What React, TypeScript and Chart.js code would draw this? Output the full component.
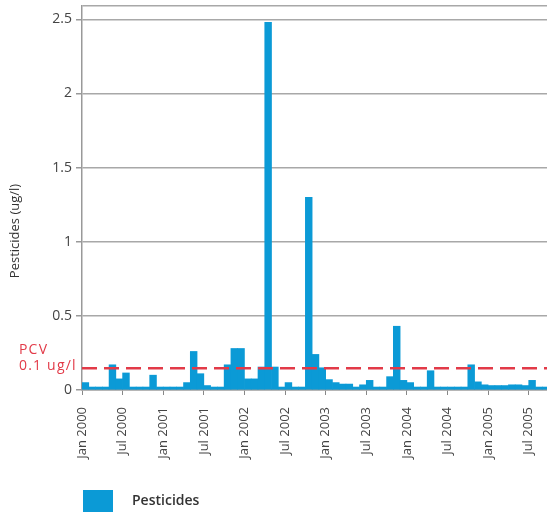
import React, { useEffect, useRef } from 'react';
import { Chart, registerables } from 'chart.js';

Chart.register(...registerables);

// Monthly pesticide concentration (ug/l), Jan 2000 .. Sep 2005
const MONTHLY_VALUES = [
  0.05, 0.02, 0.02, 0.02, 0.17, 0.075, 0.115, 0.02, 0.02, 0.02, 0.1, 0.02,
  0.02, 0.02, 0.02, 0.05, 0.26, 0.11, 0.03, 0.02, 0.02, 0.17, 0.28, 0.28,
  0.075, 0.075, 0.155, 2.48, 0.155, 0.02, 0.05, 0.02, 0.02, 1.3, 0.24, 0.15,
  0.07, 0.05, 0.04, 0.04, 0.02, 0.035, 0.065, 0.02, 0.02, 0.09, 0.43, 0.065,
  0.05, 0.02, 0.02, 0.13, 0.02, 0.02, 0.02, 0.02, 0.02, 0.17, 0.055, 0.035,
  0.03, 0.03, 0.03, 0.035, 0.035, 0.03, 0.065, 0.02, 0.02,
];
const TICK_MONTHS = [0, 6, 12, 18, 24, 30, 36, 42, 48, 54, 60, 66];
const TICK_LABELS = [
  'Jan 2000', 'Jul 2000', 'Jan 2001', 'Jul 2001', 'Jan 2002', 'Jul 2002',
  'Jan 2003', 'Jul 2003', 'Jan 2004', 'Jul 2004', 'Jan 2005', 'Jul 2005',
];
const Y_TICKS = [0, 0.5, 1, 1.5, 2, 2.5];
const Y_MAX = 2.59;
const X_MAX = 68.7;
const PCV = 0.146;
const PCV_TEXT = ['PCV', '0.1 ug/l'];
const SERIES_LABEL = 'Pesticides';
const Y_TITLE = 'Pesticides (ug/l)';

const BLUE = '#0b9ad6';
const RED = '#e23a48';
const FONT = '"Open Sans", "DejaVu Sans", sans-serif';

export default function App() {
  const ref = useRef<HTMLCanvasElement>(null);

  useEffect(() => {
    if (!ref.current) return;
    // legend swatch: transparent lead-in so the blue box sits under the plot's left edge
    const swatch = document.createElement('canvas');
    swatch.width = 115;
    swatch.height = 22;
    const sctx = swatch.getContext('2d')!;
    sctx.fillStyle = BLUE;
    sctx.fillRect(73, 0, 30, 22);

    const annotations = {
      id: 'annotations',
      afterDraw(chart: any) {
        const { ctx, chartArea, scales } = chart;
        ctx.save();
        ctx.translate(15, chartArea.bottom - 159);
        ctx.rotate(-Math.PI / 2);
        ctx.font = `13px ${FONT}`;
        ctx.fillStyle = '#333';
        ctx.textAlign = 'center';
        ctx.textBaseline = 'middle';
        ctx.fillText(Y_TITLE, 0, 0);
        ctx.restore();

        const py = scales.y.getPixelForValue(PCV);
        ctx.save();
        ctx.font = `14px ${FONT}`;
        (ctx as any).letterSpacing = '1.2px';
        ctx.fillStyle = RED;
        ctx.textAlign = 'left';
        ctx.textBaseline = 'middle';
        ctx.fillText(PCV_TEXT[0], 19, py - 18);
        ctx.fillText(PCV_TEXT[1], 19, py - 2);
        ctx.restore();
      },
    };

    const chart = new Chart(ref.current, {
      type: 'bar',
      data: {
        datasets: [
          {
            type: 'bar',
            label: SERIES_LABEL,
            data: MONTHLY_VALUES.map((v, i) => ({ x: i + 0.5, y: v })),
            backgroundColor: BLUE,
            borderWidth: 0,
            barPercentage: 1,
            categoryPercentage: 1,
            order: 2,
          } as any,
          {
            type: 'line',
            label: 'PCV',
            data: [
              { x: 0, y: PCV },
              { x: X_MAX, y: PCV },
            ],
            borderColor: RED,
            borderWidth: 2.5,
            borderDash: [15, 7],
            pointRadius: 0,
            order: 1,
          } as any,
        ],
      },
      options: {
        responsive: false,
        maintainAspectRatio: false,
        animation: false,
        events: [],
        layout: { padding: { left: 0, top: 6, right: 0, bottom: 0 } },
        scales: {
          x: {
            type: 'linear',
            min: 0,
            max: X_MAX,
            offset: false,
            afterBuildTicks: (s: any) => {
              s.ticks = TICK_MONTHS.map((v) => ({ value: v }));
            },
            afterFit: (s: any) => {
              s.height = 94;
              s.paddingLeft = 0;
              s.paddingRight = 0;
            },
            ticks: {
              autoSkip: false,
              minRotation: 90,
              maxRotation: 90,
              padding: 12,
              color: '#444',
              font: { family: FONT, size: 13 },
              callback: (_v: any, i: number) => TICK_LABELS[i],
            },
            grid: { drawOnChartArea: false, offset: false, tickLength: 5, color: '#888', lineWidth: 1 },
            border: { color: '#999', width: 1.5 },
          },
          y: {
            min: 0,
            max: Y_MAX,
            afterBuildTicks: (s: any) => {
              s.ticks = [...Y_TICKS, Y_MAX].map((v) => ({ value: v }));
            },
            afterFit: (s: any) => {
              s.width = 82;
              s.paddingTop = 0;
              s.paddingBottom = 0;
            },
            ticks: {
              autoSkip: false,
              padding: 4,
              color: '#444',
              font: { family: FONT, size: 14 },
              callback: (v: any) => (Y_TICKS.includes(v) ? String(v) : ''),
            },
            grid: {
              color: '#a8a8a8',
              lineWidth: 1.5,
              tickLength: 6,
              tickColor: (c: any) => (c.tick && c.tick.value === Y_MAX ? 'rgba(0,0,0,0)' : '#999'),
            },
            border: { color: '#999', width: 1.5 },
          },
        },
        plugins: {
          legend: {
            position: 'bottom',
            align: 'start',
            labels: {
              usePointStyle: true,
              pointStyle: swatch as any,
              pointStyleWidth: 115,
              padding: 10,
              color: '#333',
              font: { family: FONT, size: 14, weight: '600' as any },
              filter: (item: any) => item.datasetIndex === 0,
            },
          },
          tooltip: { enabled: false },
        },
      } as any,
      plugins: [annotations],
    });
    return () => chart.destroy();
  }, []);

  return (
    <div style={{ position: 'fixed', left: 0, top: 0, width: 547, height: 518, background: '#fff' }}>
      <canvas ref={ref} width={547} height={518} style={{ display: 'block', width: 547, height: 518 }} />
    </div>
  );
}
